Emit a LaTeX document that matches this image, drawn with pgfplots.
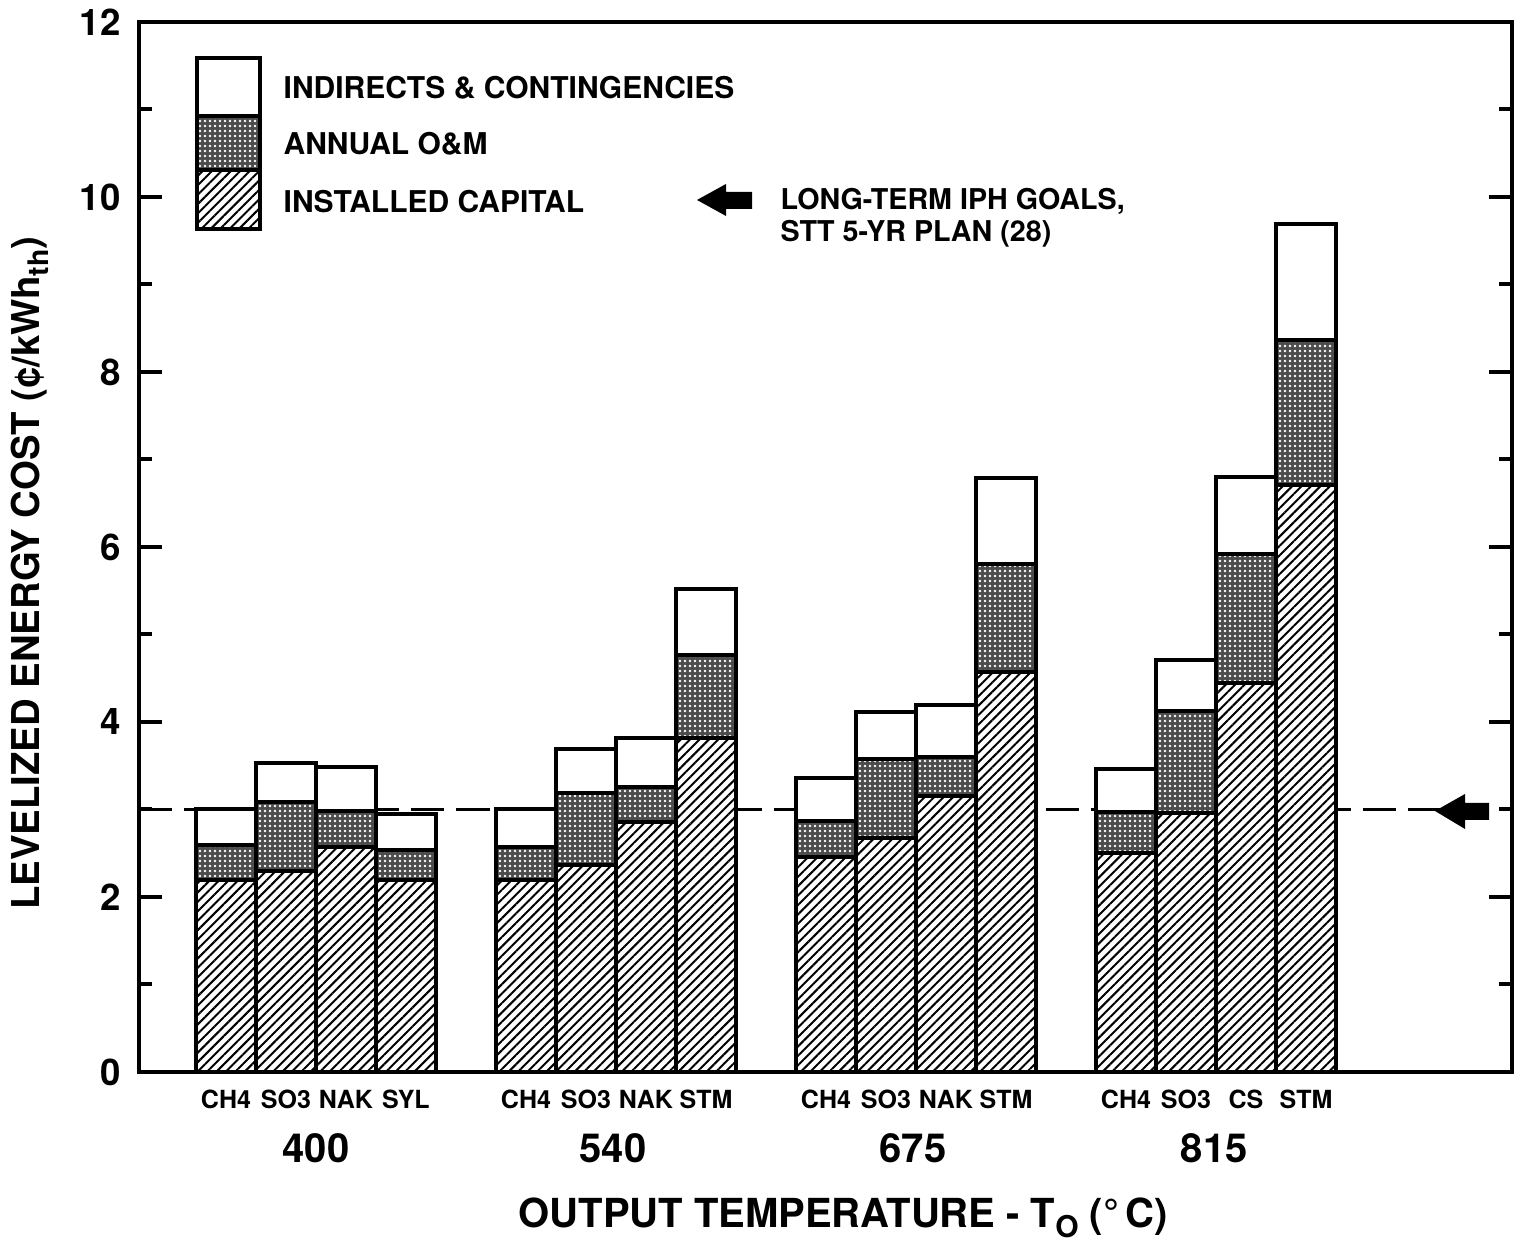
\documentclass[border=0pt]{standalone}
\usepackage{fontspec}
\setmainfont{TeX Gyre Heros}
\usepackage{pgfplots}
\usepackage{pgfplotstable}
\pgfplotsset{compat=1.18}
\usetikzlibrary{patterns.meta}

\pgfplotstableread{
pos cap om ind
0 2.19 0.40 0.41
1 2.30 0.79 0.44
2 2.57 0.41 0.50
3 2.19 0.35 0.41
5 2.19 0.38 0.44
6 2.37 0.82 0.50
7 2.86 0.40 0.56
8 3.82 0.95 0.75
10 2.46 0.41 0.49
11 2.67 0.91 0.53
12 3.15 0.45 0.59
13 4.57 1.24 0.98
15 2.50 0.47 0.49
16 2.96 1.17 0.58
17 4.45 1.47 0.88
18 6.71 1.66 1.32
}\datatable

\tikzset{
  hatchfill/.style={preaction={fill=white}, pattern={Lines[angle=45,distance=2pt,line width=0.6pt]}},
  stipfill/.style={preaction={fill=black!70}, pattern={Dots[distance=1.5pt,radius=0.42pt]}, pattern color=white},
  grouplab/.style={font=\bfseries\fontsize{12}{14}\selectfont, anchor=center, yshift=-22.8pt},
}

\begin{document}
\begin{tikzpicture}
\pgfplotsset{commonax/.style={scale only axis, width=411.9pt, height=315pt,
  xmin=-1.45, xmax=21.433, ymin=0, ymax=12, at={(0,0)}, anchor=south west}}

% reference line (goal) under the bars
\begin{axis}[commonax, hide axis]
\addplot[black, line width=0.9pt, dash pattern=on 10pt off 3.6pt] coordinates {(-1.45,3) (21.433,3)};
\end{axis}

\begin{axis}[commonax,
  ybar stacked, bar width=1,
  axis line style={line width=1.2pt},
  clip=false,
  ytick={0,2,...,12}, minor y tick num=1,
  ytick pos=both, tick align=inside,
  major tick length=7pt, minor tick length=4pt,
  every tick/.style={black, line width=1.2pt},
  major x tick style=transparent,
  xtick={0,1,2,3,5,6,7,8,10,11,12,13,15,16,17,18},
  xticklabels={CH4,SO3,NAK,SYL,CH4,SO3,NAK,STM,CH4,SO3,NAK,STM,CH4,SO3,CS,STM},
  xticklabel style={font=\bfseries\fontsize{7.5}{8}\selectfont, yshift=-2pt},
  yticklabel style={font=\bfseries\fontsize{11}{13}\selectfont, xshift=-2pt},
  /pgf/number format/assume math mode=true,
  xlabel={OUTPUT TEMPERATURE - T\raisebox{-0.45ex}{\fontsize{9}{9}\selectfont O} (°\,C)},
  xlabel style={at={(rel axis cs:0.513,-0.139)}, anchor=center, font=\bfseries\fontsize{12}{14}\selectfont},
  ylabel={LEVELIZED ENERGY COST (¢/kWh\raisebox{-0.4ex}{\fontsize{8.5}{9}\selectfont th})},
  ylabel style={at={(rel axis cs:-0.0794,0.475)}, anchor=center, font=\bfseries\fontsize{11.5}{13}\selectfont},
]
\addplot[draw=black, line width=1.2pt, hatchfill] table[x=pos,y=cap]{\datatable};
\addplot[draw=black, line width=1.2pt, stipfill] table[x=pos,y=om]{\datatable};
\addplot[draw=black, line width=1.2pt, fill=white] table[x=pos,y=ind]{\datatable};

\node[grouplab] at (axis cs:1.5,0) {400};
\node[grouplab] at (axis cs:6.45,0) {540};
\node[grouplab] at (axis cs:11.45,0) {675};
\node[grouplab] at (axis cs:16.47,0) {815};
\end{axis}

\begin{scope}[x=0.3pt, y=-0.3pt, shift={(-41.7pt,321.6pt)}]
  % legend swatches
  \draw[line width=1.2pt, fill=white] (197,58) rectangle (260,116);
  \draw[line width=1.2pt, stipfill] (197,116) rectangle (260,170);
  \draw[line width=1.2pt, hatchfill] (197,170) rectangle (260,229);
  \begin{scope}[every node/.style={inner sep=0pt, anchor=base west, font=\bfseries\fontsize{9}{11}\selectfont}]
    \node at (283,99) {INDIRECTS \& CONTINGENCIES};
    \node at (283,155) {ANNUAL O\&M};
    \node at (283,213) {INSTALLED CAPITAL};
  \end{scope}
  \begin{scope}[every node/.style={inner sep=0pt, anchor=base west, font=\bfseries\fontsize{8.6}{10}\selectfont}]
    \node at (780,210) {LONG-TERM IPH GOALS,};
    \node at (780,242) {STT 5-YR PLAN (28)};
  \end{scope}
  % arrows
  \fill[black] (697,200) -- (726,184) -- (726,192) -- (752,192) -- (752,209) -- (726,209) -- (726,216) -- cycle;
  \fill[black] (1435,811) -- (1465,794) -- (1465,803) -- (1489,803) -- (1489,820) -- (1465,820) -- (1465,829) -- cycle;
  \pgfresetboundingbox
  \path (0,0) rectangle (1514,1241);
\end{scope}
\end{tikzpicture}
\end{document}
